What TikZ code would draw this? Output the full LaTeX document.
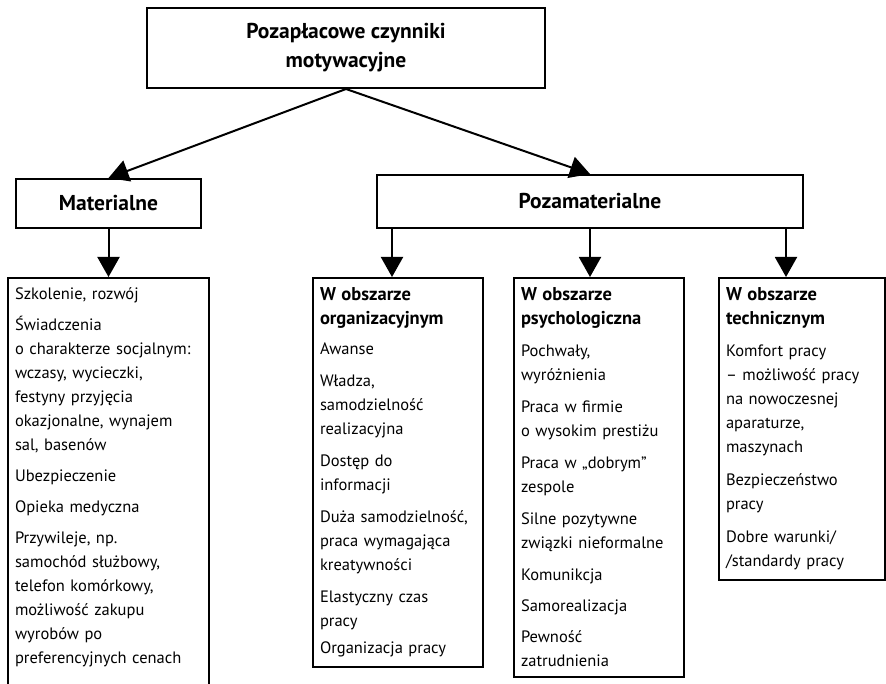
\documentclass[tikz,border=0pt]{standalone}
\usepackage{fontspec}
\setmainfont{PT Sans}
\usetikzlibrary{arrows.meta}
\hyphenpenalty=10000
\exhyphenpenalty=10000

\begin{document}
\begin{tikzpicture}[x=1pt, y=-1pt,
	head/.style={ draw, line width=2pt, font=\fontsize{21.5}{29}\selectfont\bfseries, align=center, inner sep=0pt },
	list/.style={ draw, line width=2pt, anchor=north west, align=left, font=\fontsize{16.5}{24}\selectfont, inner xsep=7pt, inner ysep=10pt },
	arr/.style={ line width=2pt, -{Triangle[length=20pt,width=22pt]} }
]

\useasboundingbox (0,0) rectangle (886,684);

\node at (346,48) (czynniki) [head, minimum width=398pt, minimum height=80pt] {Pozapłacowe czynniki\\motywacyjne};
\node at (108.5,203.5) (mat) [head, minimum width=185pt, minimum height=49pt] {Materialne};
\node at (590,201.5) (pozam) [head, minimum width=426pt, minimum height=53pt] {Pozamaterialne};

\draw[arr] (czynniki.south) -- (mat.north);
\draw[arr] (czynniki.south) -- (pozam.north);

\node at (7,277) (lmat) [list, text width=187pt] {Szkolenie, rozwój\\[7pt]
	Świadczenia\\ o charakterze socjalnym:\\ wczasy, wycieczki,\\ festyny przyjęcia\\ okazjonalne, wynajem\\ sal, basenów\\[7pt]
	Ubezpieczenie\\[7pt]
	Opieka medyczna\\[7pt]
	Przywileje, np.\\ samochód służbowy,\\ telefon komórkowy,\\ możliwość zakupu\\ wyrobów po\\ preferencyjnych cenach\rule[-40pt]{0pt}{0pt}};
\node at (312,277) (org) [list, text width=156pt] {{\fontsize{18.5}{24}\selectfont\bfseries W obszarze\\ organizacyjnym}\\[6pt]
	Awanse\\[8pt]
	Władza,\\ samodzielność\\ realizacyjna\\[8pt]
	Dostęp do\\ informacji\\[8pt]
	Duża samodzielność,\\ praca wymagająca\\ kreatywności\\[8pt]
	Elastyczny czas\\ pracy\\[3pt]
	Organizacja pracy};
\node at (513,277) (psych) [list, text width=156pt] {{\fontsize{18.5}{24}\selectfont\bfseries W obszarze\\ psychologiczna}\\[8pt]
	Pochwały,\\ wyróżnienia\\[8pt]
	Praca w firmie\\ o wysokim prestiżu\\[8pt]
	Praca w „dobrym”\\ zespole\\[8pt]
	Silne pozytywne\\ związki nieformalne\\[8pt]
	Komunikcja\\[7pt]
	Samorealizacja\\[7pt]
	Pewność\\ zatrudnienia};
\node at (718,277) (tech) [list, text width=152pt] {{\fontsize{18.5}{24}\selectfont\bfseries W obszarze\\ technicznym}\\[8pt]
	Komfort pracy\\ – możliwość pracy\\ na nowoczesnej\\ aparaturze,\\ maszynach\\[9pt]
	Bezpieczeństwo\\ pracy\\[9pt]
	Dobre warunki/\\ /standardy pracy};

\draw[arr] (mat.south) -- (mat.south |- lmat.north);
\draw[arr] ([xshift=16pt]pozam.south west) -- ([xshift=16pt]pozam.south west |- org.north);
\draw[arr] (pozam.south) -- (pozam.south |- psych.north);
\draw[arr] ([xshift=-18pt]pozam.south east) -- ([xshift=-18pt]pozam.south east |- tech.north);

\end{tikzpicture}
\end{document}
